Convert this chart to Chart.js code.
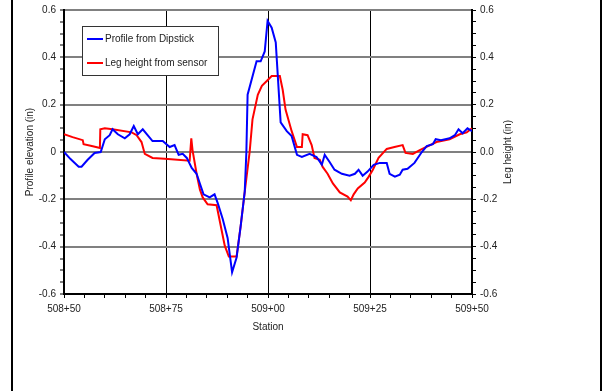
<!DOCTYPE html>
<html>
<head>
<meta charset="utf-8">
<title>Profile vs leg height</title>
<script src="https://cdn.jsdelivr.net/npm/chart.js@4.4.0/dist/chart.umd.min.js"></script>
<style>
    html, body { margin: 0; padding: 0; background: #fff; }
    #wrap { width: 605px; height: 391px; }
</style>
</head>
<body>
<div id="wrap"><canvas id="profile" width="605" height="391"></canvas></div>
<script>
// Station values are in feet (50850 = 508+50)
const dipstickStation = [
    50850, 50851.6, 50853.6, 50854.3, 50855.8, 50857.5, 50859.0, 50860.0, 50861.2, 50861.9,
    50863.2, 50864.9, 50866.1, 50867.1, 50868.1, 50869.3, 50871.7, 50874.2, 50875.9, 50877.1,
    50878.1, 50879.1, 50880.1, 50881.3, 50882.5, 50883.3, 50884.2, 50885.7, 50886.9, 50887.7,
    50888.9, 50890.1, 50891.2, 50892.3, 50893.3, 50894.3, 50894.7, 50895.0, 50897.2, 50898.2,
    50899.2, 50899.9, 50900.9, 50901.9, 50903.1, 50904.6, 50905.8, 50907.1, 50908.3, 50910.2,
    50911.9, 50913.2, 50913.9, 50915.1, 50916.3, 50918.1, 50920.0, 50921.3, 50922.2, 50923.2,
    50924.4, 50925.9, 50927.4, 50929.1, 50929.8, 50931.1, 50932.3, 50933.0, 50934.2, 50935.9,
    50937.7, 50938.9, 50940.4, 50941.1, 50942.4, 50944.5, 50945.8, 50946.7, 50947.7, 50948.9,
    50950
];
const dipstickElevation = [
    0, -0.03, -0.062, -0.062, -0.033, -0.004, 0, 0.054, 0.071, 0.096,
    0.075, 0.058, 0.075, 0.11, 0.075, 0.096, 0.046, 0.046, 0.021, 0.029,
    -0.012, -0.008, -0.025, -0.067, -0.092, -0.133, -0.179, -0.192, -0.179, -0.217,
    -0.283, -0.363, -0.508, -0.446, -0.313, -0.167, 0, 0.242, 0.383, 0.383,
    0.425, 0.554, 0.525, 0.463, 0.125, 0.088, 0.067, -0.012, -0.021, -0.008,
    -0.021, -0.054, -0.012, -0.042, -0.075, -0.092, -0.1, -0.092, -0.075, -0.1,
    -0.083, -0.054, -0.046, -0.046, -0.092, -0.104, -0.096, -0.075, -0.071, -0.046,
    0, 0.025, 0.033, 0.054, 0.05, 0.058, 0.071, 0.096, 0.079, 0.1,
    0.088
];

const sensorStation = [
    50850, 50852.1, 50854.6, 50854.8, 50856.8, 50858.8, 50858.9, 50860.0, 50861.9, 50866.6,
    50867.8, 50869.0, 50869.8, 50871.7, 50874.7, 50880.8, 50881.2, 50881.5, 50882.5, 50883.3,
    50884.0, 50885.2, 50887.4, 50889.4, 50890.4, 50892.3, 50893.3, 50894.3, 50895.5, 50896.2,
    50897.5, 50898.5, 50899.7, 50900.9, 50902.9, 50903.6, 50904.3, 50905.8, 50907.1, 50908.3,
    50908.5, 50909.7, 50910.7, 50911.4, 50912.7, 50913.4, 50914.6, 50915.9, 50917.6, 50919.5,
    50920.3, 50921.0, 50922.0, 50923.7, 50924.7, 50925.7, 50927.1, 50929.1, 50931.0, 50933.0,
    50933.7, 50935.5, 50937.2, 50941.3, 50944.5, 50947.0, 50948.7, 50950
];
const sensorHeight = [
    0.075, 0.063, 0.05, 0.033, 0.025, 0.017, 0.096, 0.1, 0.096, 0.083,
    0.071, 0.042, -0.008, -0.025, -0.029, -0.037, 0.058, 0.008, -0.092, -0.158,
    -0.192, -0.221, -0.225, -0.396, -0.442, -0.442, -0.313, -0.167, 0, 0.138,
    0.242, 0.28, 0.3, 0.321, 0.321, 0.263, 0.179, 0.088, 0.021, 0.021,
    0.075, 0.071, 0.029, -0.025, -0.033, -0.063, -0.092, -0.133, -0.171, -0.188,
    -0.204, -0.179, -0.154, -0.129, -0.104, -0.075, -0.025, 0.013, 0.021, 0.029,
    -0.004, -0.008, 0.008, 0.042, 0.054, 0.075, 0.083, 0.1
];

const stationTicks = [50850, 50875, 50900, 50925, 50950];
const elevationTicks = [-0.6, -0.4, -0.2, 0, 0.2, 0.4, 0.6];

const FONT = { family: "'Liberation Sans', Arial, sans-serif", size: 10 };
const TEXT = '#222';

function zip(xs, ys) {
    return xs.map((x, i) => ({ x: x, y: ys[i] }));
}

function stationLabel(v) {
    const ft = Math.round(v);
    return Math.floor(ft / 100) + '+' + String(ft % 100).padStart(2, '0');
}

function isMajorStation(v) {
    return stationTicks.includes(Math.round(v));
}

function isMajorElev(v) {
    return elevationTicks.some(t => Math.abs(t - v) < 1e-6);
}

// Outer frame, right axis title and the boxed legend
const decorations = {
    id: 'decorations',
    afterDraw(chart) {
        const ctx = chart.ctx;
        const area = chart.chartArea;
        ctx.save();

        ctx.fillStyle = '#000';
        ctx.fillRect(11, 0, 2, chart.height);
        ctx.fillRect(600, 0, 2, chart.height);

        ctx.font = FONT.size + 'px ' + FONT.family;
        ctx.fillStyle = TEXT;
        ctx.textAlign = 'center';
        ctx.textBaseline = 'middle';
        ctx.translate(508, (area.top + area.bottom) / 2);
        ctx.rotate(-Math.PI / 2);
        ctx.fillText('Leg height (in)', 0, 0);
        ctx.setTransform(1, 0, 0, 1, 0, 0);

        ctx.fillStyle = '#fff';
        ctx.fillRect(82.5, 26.5, 136, 49);
        ctx.strokeStyle = '#333';
        ctx.lineWidth = 1;
        ctx.strokeRect(82.5, 26.5, 136, 49);

        chart.data.datasets.forEach((ds, i) => {
            const y = 39 + i * 24;
            ctx.strokeStyle = ds.borderColor;
            ctx.lineWidth = 2;
            ctx.beginPath();
            ctx.moveTo(87, y);
            ctx.lineTo(103, y);
            ctx.stroke();
            ctx.fillStyle = TEXT;
            ctx.textAlign = 'left';
            ctx.textBaseline = 'middle';
            ctx.fillText(ds.label, 105, y);
        });
        ctx.restore();
    }
};

new Chart(document.getElementById('profile'), {
    type: 'line',
    data: {
        datasets: [
            {
                label: 'Profile from Dipstick',
                data: zip(dipstickStation, dipstickElevation),
                borderColor: '#0000ff',
                borderWidth: 2,
                pointRadius: 0,
                tension: 0,
                yAxisID: 'y'
            },
            {
                label: 'Leg height from sensor',
                data: zip(sensorStation, sensorHeight),
                borderColor: '#ff0000',
                borderWidth: 2,
                pointRadius: 0,
                tension: 0,
                yAxisID: 'y2'
            }
        ]
    },
    options: {
        responsive: false,
        animation: false,
        layout: { padding: { top: 6, left: 0, right: 0, bottom: 0 } },
        plugins: {
            legend: { display: false },
            tooltip: { enabled: false }
        },
        scales: {
            x: {
                type: 'linear',
                min: 50850,
                max: 50950,
                afterFit: s => { s.height = 97; },
                afterBuildTicks: s => {
                    const t = [];
                    for (let v = 50850; v <= 50950; v += 5) t.push({ value: v });
                    s.ticks = t;
                },
                border: { color: '#000', width: 2 },
                grid: {
                    color: c => (isMajorStation(c.tick.value) && c.tick.value > 50850 && c.tick.value < 50950) ? '#000' : 'rgba(0,0,0,0)',
                    lineWidth: 1,
                    tickColor: '#000',
                    tickLength: 4,
                    tickWidth: 1
                },
                ticks: {
                    autoSkip: false,
                    maxRotation: 0,
                    padding: 5,
                    color: TEXT,
                    font: FONT,
                    callback: v => isMajorStation(v) ? stationLabel(v) : ''
                },
                title: {
                    display: true,
                    text: 'Station',
                    color: TEXT,
                    font: FONT,
                    padding: { top: 0, bottom: 58 }
                }
            },
            y: {
                position: 'left',
                min: -0.6,
                max: 0.6,
                afterFit: s => { s.width = 64; },
                afterBuildTicks: s => {
                    const t = [];
                    for (let i = -12; i <= 12; i++) t.push({ value: i / 20 });
                    s.ticks = t;
                },
                border: { color: '#000', width: 2 },
                grid: {
                    color: c => {
                        const v = c.tick.value;
                        if (!isMajorElev(v) || v < -0.55) return 'rgba(0,0,0,0)';
                        return '#808080';
                    },
                    lineWidth: 2,
                    tickColor: '#000',
                    tickLength: 4,
                    tickWidth: 1
                },
                ticks: {
                    autoSkip: false,
                    padding: 4,
                    color: TEXT,
                    font: FONT,
                    callback: v => {
                        if (!isMajorElev(v)) return '';
                        const r = Math.round(v * 10) / 10;
                        return r === 0 ? '0' : r.toFixed(1);
                    }
                },
                title: {
                    display: true,
                    text: 'Profile elevation (in)',
                    color: TEXT,
                    font: FONT,
                    padding: { top: 24, bottom: 0 }
                }
            },
            y2: {
                position: 'right',
                min: -0.6,
                max: 0.6,
                afterFit: s => { s.width = 133; },
                afterBuildTicks: s => {
                    const t = [];
                    for (let i = -12; i <= 12; i++) t.push({ value: i / 20 });
                    s.ticks = t;
                },
                border: { color: '#000', width: 2 },
                grid: {
                    drawOnChartArea: false,
                    tickColor: '#000',
                    tickLength: 4,
                    tickWidth: 1
                },
                ticks: {
                    autoSkip: false,
                    padding: 4,
                    color: TEXT,
                    font: FONT,
                    callback: v => {
                        if (!isMajorElev(v)) return '';
                        const r = Math.round(v * 10) / 10;
                        return (r === 0 ? 0 : r).toFixed(1);
                    }
                }
            }
        }
    },
    plugins: [decorations]
});
</script>
</body>
</html>
